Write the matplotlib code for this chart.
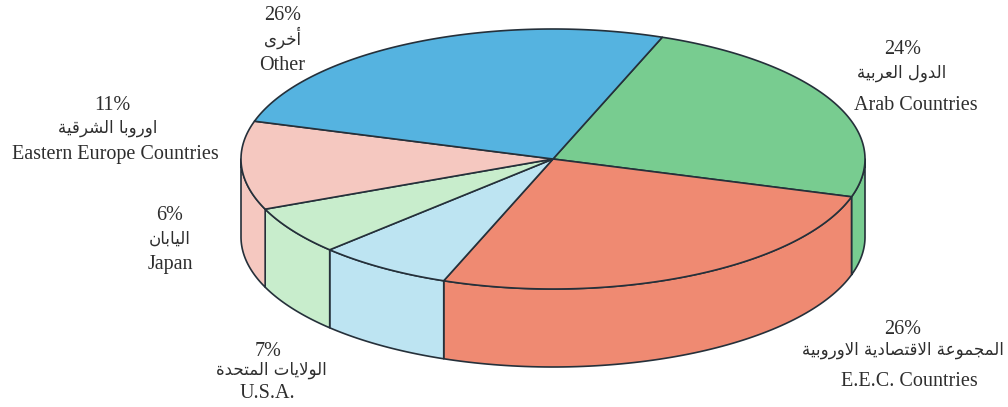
import numpy as np
import matplotlib
matplotlib.use("Agg")
import matplotlib.pyplot as plt
from matplotlib.patches import Polygon

# ---- data ----
categories_en = ['Arab Countries', 'E.E.C. Countries', 'U.S.A.', 'Japan',
                 'Eastern Europe Countries', 'Other']
categories_ar = ['الدول العربية', 'المجموعة الاقتصادية الاوروبية', 'الولايات المتحدة',
                 'اليابان', 'اوروبا الشرقية', 'أخرى']
values = [24, 26, 7, 6, 11, 26]
colors = ['#78cc90', '#ef8a72', '#bde4f2', '#c8edcc', '#f5c8c0', '#55b3e0']

# ---- minimal Arabic shaping (presentation forms, visual order) ----
FORMS = {
    'ا': (0xFE8D, 0xFE8E, None, None), 'أ': (0xFE83, 0xFE84, None, None),
    'ب': (0xFE8F, 0xFE90, 0xFE91, 0xFE92), 'ة': (0xFE93, 0xFE94, None, None),
    'ت': (0xFE95, 0xFE96, 0xFE97, 0xFE98), 'ج': (0xFE9D, 0xFE9E, 0xFE9F, 0xFEA0),
    'ح': (0xFEA1, 0xFEA2, 0xFEA3, 0xFEA4), 'خ': (0xFEA5, 0xFEA6, 0xFEA7, 0xFEA8),
    'د': (0xFEA9, 0xFEAA, None, None), 'ر': (0xFEAD, 0xFEAE, None, None),
    'ش': (0xFEB5, 0xFEB6, 0xFEB7, 0xFEB8), 'ص': (0xFEB9, 0xFEBA, 0xFEBB, 0xFEBC),
    'ع': (0xFEC9, 0xFECA, 0xFECB, 0xFECC), 'ق': (0xFED5, 0xFED6, 0xFED7, 0xFED8),
    'ل': (0xFEDD, 0xFEDE, 0xFEDF, 0xFEE0), 'م': (0xFEE1, 0xFEE2, 0xFEE3, 0xFEE4),
    'ن': (0xFEE5, 0xFEE6, 0xFEE7, 0xFEE8), 'و': (0xFEED, 0xFEEE, None, None),
    'ى': (0xFEEF, 0xFEF0, None, None), 'ي': (0xFEF1, 0xFEF2, 0xFEF3, 0xFEF4),
    'لا': (0xFEFB, 0xFEFC, None, None),
}


def shape(text):
    words = []
    for word in text.split(' '):
        toks, i = [], 0
        while i < len(word):
            if word[i] == 'ل' and i + 1 < len(word) and word[i + 1] == 'ا':
                toks.append('لا'); i += 2
            else:
                toks.append(word[i]); i += 1
        glyphs = []
        for k, t in enumerate(toks):
            f = FORMS[t]
            pj = k > 0 and FORMS[toks[k - 1]][2] is not None
            nj = f[2] is not None and k + 1 < len(toks)
            g = f[3] if (pj and nj) else f[1] if pj else f[2] if nj else f[0]
            glyphs.append(chr(g))
        words.append(''.join(glyphs))
    return ' '.join(words)[::-1]


# ---- layout ----
W, H = 1008, 407
cx, cy, a, b, depth = 553, 159, 312, 130, 78
start_angle = 69.5
edge = '#25303a'

fig = plt.figure(figsize=(W / 100, H / 100), dpi=100)
ax = fig.add_axes([0, 0, 1, 1])
ax.set_xlim(0, W)
ax.set_ylim(H, 0)
ax.axis('off')


def pt(t, dy=0.0):
    r = np.radians(t)
    return cx + a * np.cos(r), cy - b * np.sin(r) + dy


total = float(sum(values))
bounds = []
s = start_angle
for v in values:
    e = s - 360.0 * v / total
    bounds.append((s, e))
    s = e

# side walls (front half only)
for (s, e), c in zip(bounds, colors):
    for k in (-1, 0, 1):
        lo, hi = -180 + 360 * k, 360 * k
        s2, e2 = min(s, hi), max(e, lo)
        if s2 - e2 > 0.01:
            ts = np.linspace(s2, e2, 80)
            top = [pt(t) for t in ts]
            bot = [pt(t, depth) for t in ts[::-1]]
            ax.add_patch(Polygon(top + bot, closed=True, facecolor=c,
                                 edgecolor=edge, linewidth=1.2, joinstyle='round'))

# top wedges
for (s, e), c in zip(bounds, colors):
    ts = np.linspace(s, e, 200)
    poly = [(cx, cy)] + [pt(t) for t in ts]
    ax.add_patch(Polygon(poly, closed=True, facecolor=c, edgecolor=edge,
                         linewidth=1.2, joinstyle='round'))

# ---- labels ----
tc = '#2e2e2e'
latin = ['Liberation Serif', 'DejaVu Sans']
fs = 14.5
fa = 12
# (x_pct, y_pct, y_ar, y_en, x_ar, x_en) per category
label_pos = [
    (903, 49, 73, 106, 902, 916),    # Arab
    (903, 329, 350, 382, 903, 909),  # EEC
    (268, 351, 370, 393, 271, 267),  # USA
    (170, 216, 239, 264, 170, 170),  # Japan
    (112, 105, 128, 155, 108, 115),  # EE
    (283, 16, 38, 66, 283, 282),     # Other
]
for v, en, ar, (x, yp, ya, ye, xa, xe) in zip(values, categories_en,
                                              categories_ar, label_pos):
    ax.text(x, yp, f'{v}%', ha='center', va='center', fontsize=fs,
            family=latin, color=tc)
    ax.text(xa, ya, shape(ar), ha='center', va='center', fontsize=fa,
            family=['DejaVu Sans'], color=tc)
    ax.text(xe, ye, en, ha='center', va='center', fontsize=fs,
            family=latin, color=tc)

fig.savefig('out.png', dpi=100, facecolor='white')
